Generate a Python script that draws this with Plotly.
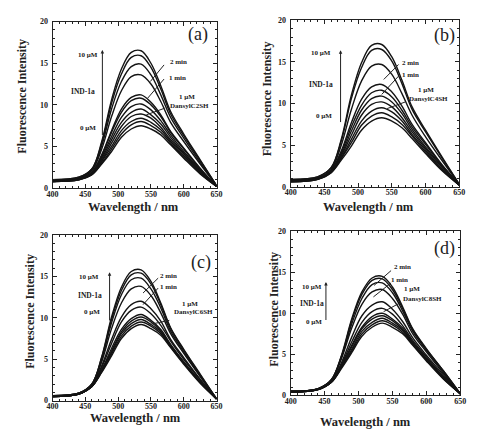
import plotly.graph_objects as go

WAVELENGTH = [400, 440, 460, 475, 490, 505, 520, 535, 550, 565, 580, 600, 625, 650]

# Panel (a): DansylC2SH
SPECTRA_A = [
    [0.8, 1.0, 1.6, 2.9, 4.4, 6.1, 7.1, 7.5, 7.1, 6.4, 5.2, 3.6, 1.7, 0.2],
    [0.8, 1.0, 1.6, 3.0, 4.7, 6.5, 7.6, 8.0, 7.5, 6.7, 5.4, 3.7, 1.8, 0.2],
    [0.8, 1.0, 1.7, 3.2, 5.0, 6.9, 8.0, 8.4, 7.9, 7.0, 5.6, 3.9, 1.9, 0.2],
    [0.8, 1.1, 1.7, 3.3, 5.4, 7.4, 8.6, 8.9, 8.4, 7.3, 5.8, 4.1, 2.0, 0.2],
    [0.8, 1.1, 1.8, 3.5, 5.8, 7.9, 9.1, 9.5, 8.8, 7.7, 6.1, 4.2, 2.1, 0.2],
    [0.9, 1.1, 1.8, 3.7, 6.2, 8.5, 9.8, 10.1, 9.4, 8.1, 6.4, 4.4, 2.2, 0.2],
    [0.9, 1.1, 1.9, 3.9, 6.7, 9.1, 10.5, 10.8, 10.0, 8.6, 6.7, 4.7, 2.3, 0.2],
    [0.9, 1.1, 1.9, 4.0, 6.9, 9.5, 10.9, 11.2, 10.3, 8.8, 6.8, 4.8, 2.4, 0.2],
    [0.9, 1.2, 2.1, 4.7, 8.6, 11.7, 13.4, 13.6, 12.5, 10.4, 7.9, 5.6, 2.9, 0.3],
    [1.0, 1.2, 2.2, 5.1, 9.5, 12.8, 14.6, 14.9, 13.6, 11.2, 8.5, 6.0, 3.1, 0.3],
    [1.0, 1.3, 2.3, 5.4, 10.2, 13.7, 15.7, 15.9, 14.5, 11.9, 8.9, 6.3, 3.3, 0.3],
    [1.0, 1.3, 2.3, 5.6, 10.6, 14.3, 16.3, 16.5, 15.0, 12.3, 9.2, 6.5, 3.4, 0.3],
]

# Panel (b): DansylC4SH
SPECTRA_B = [
    [0.6, 0.9, 1.7, 3.2, 4.9, 6.8, 7.9, 8.3, 7.9, 7.1, 5.8, 4.0, 1.9, 0.2],
    [0.6, 0.9, 1.7, 3.4, 5.3, 7.4, 8.5, 8.9, 8.4, 7.5, 6.1, 4.2, 2.0, 0.2],
    [0.6, 0.9, 1.8, 3.5, 5.7, 7.9, 9.1, 9.5, 9.0, 7.9, 6.3, 4.4, 2.1, 0.2],
    [0.7, 1.0, 1.8, 3.7, 6.2, 8.6, 9.9, 10.2, 9.6, 8.3, 6.6, 4.6, 2.3, 0.2],
    [0.7, 1.0, 1.9, 3.9, 6.7, 9.2, 10.6, 10.9, 10.2, 8.8, 6.9, 4.8, 2.4, 0.2],
    [0.7, 1.0, 1.9, 4.1, 7.2, 9.8, 11.3, 11.6, 10.8, 9.2, 7.2, 5.1, 2.5, 0.2],
    [0.7, 1.0, 2.0, 4.3, 7.7, 10.5, 12.0, 12.3, 11.4, 9.7, 7.5, 5.3, 2.6, 0.3],
    [0.8, 1.1, 2.1, 5.0, 9.3, 12.7, 14.5, 14.7, 13.5, 11.2, 8.6, 6.0, 3.1, 0.3],
    [0.9, 1.2, 2.3, 5.5, 10.6, 14.3, 16.4, 16.5, 15.1, 12.4, 9.3, 6.6, 3.4, 0.3],
    [0.9, 1.2, 2.3, 5.7, 11.0, 14.9, 17.0, 17.1, 15.6, 12.8, 9.6, 6.8, 3.5, 0.3],
]

# Panel (c): DansylC6SH
SPECTRA_C = [
    [0.5, 0.8, 1.7, 3.4, 5.4, 7.5, 8.7, 9.2, 8.7, 7.9, 6.4, 4.4, 2.1, 0.2],
    [0.5, 0.8, 1.7, 3.5, 5.6, 7.8, 9.0, 9.5, 9.0, 8.1, 6.5, 4.5, 2.2, 0.2],
    [0.5, 0.8, 1.7, 3.6, 5.8, 8.1, 9.3, 9.8, 9.2, 8.3, 6.6, 4.6, 2.2, 0.2],
    [0.5, 0.8, 1.7, 3.7, 6.0, 8.3, 9.6, 10.1, 9.5, 8.4, 6.7, 4.6, 2.3, 0.2],
    [0.5, 0.8, 1.8, 3.7, 6.3, 8.6, 9.9, 10.4, 9.7, 8.6, 6.8, 4.7, 2.3, 0.2],
    [0.5, 0.8, 1.8, 4.0, 6.9, 9.5, 10.9, 11.3, 10.5, 9.1, 7.2, 5.0, 2.5, 0.2],
    [0.5, 0.8, 1.8, 4.2, 7.4, 10.1, 11.6, 12.0, 11.1, 9.6, 7.4, 5.2, 2.6, 0.2],
    [0.6, 0.9, 1.9, 4.7, 8.7, 11.8, 13.5, 13.8, 12.7, 10.6, 8.1, 5.7, 2.9, 0.2],
    [0.6, 0.9, 2.0, 5.0, 9.4, 12.8, 14.6, 14.8, 13.5, 11.2, 8.4, 5.9, 3.0, 0.2],
    [0.6, 0.9, 2.0, 5.2, 9.8, 13.3, 15.2, 15.4, 14.1, 11.6, 8.7, 6.1, 3.1, 0.2],
    [0.6, 0.9, 2.0, 5.3, 10.1, 13.7, 15.6, 15.8, 14.4, 11.8, 8.8, 6.2, 3.2, 0.2],
]

# Panel (d): DansylC8SH
SPECTRA_D = [
    [0.4, 0.7, 1.6, 3.3, 5.2, 7.2, 8.3, 8.8, 8.3, 7.5, 6.1, 4.2, 2.0, 0.2],
    [0.4, 0.7, 1.6, 3.4, 5.4, 7.5, 8.6, 9.1, 8.6, 7.7, 6.2, 4.3, 2.1, 0.2],
    [0.4, 0.7, 1.6, 3.5, 5.6, 7.8, 8.9, 9.4, 8.8, 7.9, 6.3, 4.4, 2.1, 0.2],
    [0.4, 0.7, 1.7, 3.6, 5.9, 8.1, 9.3, 9.7, 9.1, 8.0, 6.4, 4.4, 2.2, 0.2],
    [0.4, 0.7, 1.7, 3.6, 6.1, 8.3, 9.6, 10.0, 9.3, 8.2, 6.5, 4.5, 2.2, 0.2],
    [0.4, 0.7, 1.7, 3.8, 6.5, 8.9, 10.2, 10.6, 9.9, 8.5, 6.7, 4.7, 2.3, 0.2],
    [0.5, 0.8, 1.7, 4.0, 7.1, 9.7, 11.0, 11.4, 10.5, 9.0, 7.0, 4.9, 2.5, 0.2],
    [0.5, 0.8, 1.8, 4.5, 8.2, 11.1, 12.6, 12.9, 11.8, 9.9, 7.5, 5.3, 2.7, 0.2],
    [0.5, 0.8, 1.9, 4.7, 8.7, 11.8, 13.5, 13.7, 12.5, 10.3, 7.8, 5.5, 2.9, 0.2],
    [0.5, 0.8, 1.9, 4.8, 9.1, 12.3, 14.0, 14.2, 12.9, 10.6, 8.0, 5.6, 3.0, 0.2],
    [0.5, 0.8, 1.9, 4.9, 9.3, 12.6, 14.3, 14.5, 13.2, 10.8, 8.1, 5.7, 3.0, 0.2],
]

X_TICKS = [400, 450, 500, 550, 600, 650]
Y_TICKS = [0, 5, 10, 15, 20]
PANEL_LABELS = ["(a)", "(b)", "(c)", "(d)"]
DANSYL_LABELS = ["DansylC2SH", "DansylC4SH", "DansylC6SH", "DansylC8SH"]

W, H = 477, 434
SERIF = "Liberation Serif"

# plot-area boxes in pixels: (left, right, top, bottom)
BOXES = [(47.7, 216, 18, 188), (292, 465, 16.7, 186.7),
         (47.7, 216, 236, 405), (292, 466, 232, 399.7)]

fig = go.Figure()
all_spectra = [SPECTRA_A, SPECTRA_B, SPECTRA_C, SPECTRA_D]
for i, spectra in enumerate(all_spectra):
    xa = "x" if i == 0 else f"x{i+1}"
    ya = "y" if i == 0 else f"y{i+1}"
    for s in spectra:
        fig.add_trace(go.Scatter(x=WAVELENGTH, y=s, mode="lines", xaxis=xa, yaxis=ya,
                                 line=dict(color="#141414", width=1.4, shape="spline", smoothing=1.0),
                                 showlegend=False, hoverinfo="skip"))

layout = dict(width=W, height=H, margin=dict(l=0, r=0, t=0, b=0),
              paper_bgcolor="white", plot_bgcolor="white", showlegend=False)

tickfont = dict(family=SERIF, size=8, color="#222", weight="bold")
for i, (l, r, t, b) in enumerate(BOXES):
    sfx = "" if i == 0 else str(i + 1)
    xname, yname = "xaxis" + sfx, "yaxis" + sfx
    layout[xname] = dict(domain=[l / W, r / W], range=[400, 650], anchor="y" + sfx,
                         tickvals=X_TICKS, ticks="inside", ticklen=4, tickcolor="#222",
                         showline=True, mirror="ticks", linecolor="#222", linewidth=1,
                         showgrid=False, zeroline=False, tickfont=tickfont, ticklabelstandoff=-2,
                         minor=dict(dtick=10, ticks="inside", ticklen=2, tickcolor="#222"))
    layout[yname] = dict(domain=[1 - b / H, 1 - t / H], range=[0, 20], anchor="x" + sfx,
                         tickvals=Y_TICKS, ticks="inside", ticklen=4, tickcolor="#222",
                         showline=True, mirror="ticks", linecolor="#222", linewidth=1,
                         showgrid=False, zeroline=False, tickfont=tickfont, ticklabelstandoff=2,
                         minor=dict(dtick=1, ticks="inside", ticklen=2, tickcolor="#222"))
fig.update_layout(**layout)

ann = []
shapes = []
# axis titles (pixel positions)
YT = [(16, 94), (268, 97), (25, 314), (274, 312)]
XT = [(131, 207), (372, 207), (133, 423), (369, 427)]
for (x, y) in YT:
    ann.append(dict(x=x / W, y=1 - y / H, xref="paper", yref="paper", text="Fluorescence Intensity",
                    textangle=-90, showarrow=False, xanchor="center", yanchor="middle",
                    font=dict(family=SERIF, size=12, color="#222", weight="bold")))
for (x, y) in XT:
    ann.append(dict(x=x / W, y=1 - y / H, xref="paper", yref="paper", text="Wavelength / nm",
                    showarrow=False, xanchor="center", yanchor="middle",
                    font=dict(family=SERIF, size=12.5, color="#222", weight="bold")))

# in-panel labels, data coordinates
PANEL_TXT = [
    dict(lab=(622, 18.4), top=(454, 16.0), ind=(447, 11.6), zero=(454, 7.2), arr=(476, 6.2, 16.6),
         m2=(592, 15.1), m1=(590, 13.2), um=(605, 11.0), dn=(608, 9.9),
         lines=[(570, 14.8, 549, 12.8), (570, 13.1, 545, 10.8), (571, 9.6, 543, 8.8)]),
    dict(lab=(628, 18.2), top=(445, 16.1), ind=(445, 12.3), zero=(449, 8.55), arr=(474, 7.6, 16.4),
         m2=(578, 14.9), m1=(578, 13.4), um=(601, 11.6), dn=(605, 10.5),
         lines=[(560, 14.7, 538, 12.9), (560, 13.3, 535, 11.1), (570, 10.2, 543, 9.4)]),
    dict(lab=(626, 16.7), top=(455, 14.9), ind=(457, 12.7), zero=(460, 10.65), arr=(487, 9.5, 15.5),
         m2=(577, 15.0), m1=(577, 13.7), um=(609, 11.7), dn=(615, 10.7),
         lines=[(561, 14.8, 538, 13.0), (561, 13.6, 538, 11.6), (578, 9.7, 548, 9.2)]),
    dict(lab=(627, 17.9), top=(432, 13.2), ind=(432, 11.2), zero=(434, 9.0), arr=(452, 9.0, 13.8),
         m2=(565, 15.6), m1=(560, 14.0), um=(579, 12.9), dn=(595, 11.8),
         lines=[(548, 15.2, 523, 13.4), (548, 13.7, 522, 12.0), (562, 11.3, 537, 10.2)]),
]
small = dict(family=SERIF, size=7, color="#222", weight="bold")
for i, p in enumerate(PANEL_TXT):
    sfx = "" if i == 0 else str(i + 1)
    xr, yr = "x" + sfx, "y" + sfx
    ann.append(dict(x=p["lab"][0], y=p["lab"][1], xref=xr, yref=yr, text=PANEL_LABELS[i],
                    showarrow=False, font=dict(family=SERIF, size=18, color="#222")))
    ann.append(dict(x=p["top"][0], y=p["top"][1], xref=xr, yref=yr, text="10 µM", showarrow=False, font=small))
    ann.append(dict(x=p["ind"][0], y=p["ind"][1], xref=xr, yref=yr, text="IND-1a", showarrow=False,
                    font=dict(family=SERIF, size=7.5, color="#222", weight="bold")))
    ann.append(dict(x=p["zero"][0], y=p["zero"][1], xref=xr, yref=yr, text="0 µM", showarrow=False, font=small))
    ann.append(dict(x=p["m2"][0], y=p["m2"][1], xref=xr, yref=yr, text="2 min", showarrow=False, font=small))
    ann.append(dict(x=p["m1"][0], y=p["m1"][1], xref=xr, yref=yr, text="1 min", showarrow=False, font=small))
    ann.append(dict(x=p["um"][0], y=p["um"][1], xref=xr, yref=yr, text="1 µM", showarrow=False, font=small))
    ann.append(dict(x=p["dn"][0], y=p["dn"][1], xref=xr, yref=yr, text=DANSYL_LABELS[i], showarrow=False, font=small))
    ax_, y0, y1 = p["arr"]
    ann.append(dict(x=ax_, y=y1, ax=ax_, ay=y0, xref=xr, yref=yr, axref=xr, ayref=yr, text="",
                    showarrow=True, arrowhead=2, arrowsize=0.7, arrowwidth=1, arrowcolor="#222"))
    for (x0, yy0, x1, yy1) in p["lines"]:
        shapes.append(dict(type="line", xref=xr, yref=yr, x0=x0, y0=yy0, x1=x1, y1=yy1,
                           line=dict(color="#222", width=1)))

fig.update_layout(annotations=ann, shapes=shapes)
fig.write_html("out.html", config={"displayModeBar": False, "staticPlot": True},
               post_script="document.body.style.margin='0';document.body.style.overflow='hidden';")
